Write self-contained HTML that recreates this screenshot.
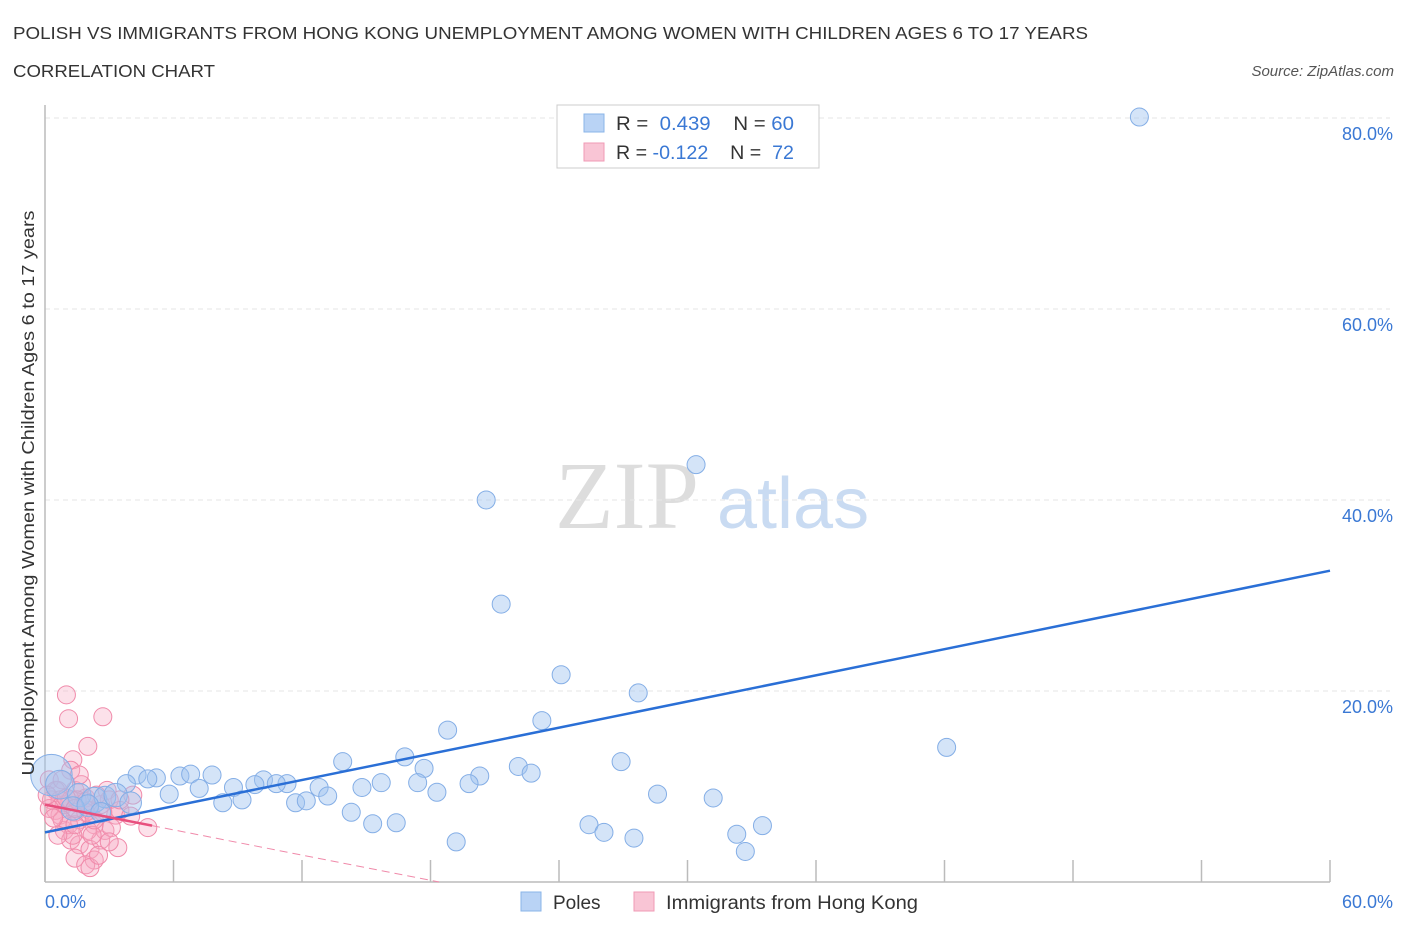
<!DOCTYPE html>
<html><head><meta charset="utf-8"><style>
body{margin:0;background:#fff;font-family:"Liberation Sans",sans-serif}
svg{display:block}
</style></head><body>
<svg id="chart" width="1406" height="930">
<text x="13" y="39" font-size="17.5" fill="#333" textLength="1075" lengthAdjust="spacingAndGlyphs">POLISH VS IMMIGRANTS FROM HONG KONG UNEMPLOYMENT AMONG WOMEN WITH CHILDREN AGES 6 TO 17 YEARS</text>
<text x="13" y="77" font-size="17.5" fill="#333" textLength="202" lengthAdjust="spacingAndGlyphs">CORRELATION CHART</text>
<text x="1394" y="76" font-size="15" fill="#555" font-style="italic" text-anchor="end">Source: ZipAtlas.com</text>
<g>
<text x="555" y="528" font-size="96" fill="#ddd" font-family="Liberation Serif,serif">ZIP</text>
<text x="717" y="528" font-size="72" fill="#c9dbf2">atlas</text>
</g>
<g id="grid"></g>
<g id="axes"></g>
<g id="marks"></g>
<text transform="translate(34,493) rotate(-90)" font-size="17.5" fill="#333" text-anchor="middle" textLength="565" lengthAdjust="spacingAndGlyphs">Unemployment Among Women with Children Ages 6 to 17 years</text>
<text x="45" y="908" font-size="18" fill="#3a78d4">0.0%</text>
<text x="1393" y="908" font-size="18" fill="#3a78d4" text-anchor="end">60.0%</text>
<g>
<rect x="557" y="105" width="262" height="63" fill="#fff" stroke="#ccc"/>
<rect x="584" y="114" width="20" height="18" fill="#b9d3f5" stroke="#8ab4e8"/>
<rect x="584" y="143" width="20" height="18" fill="#f9c5d5" stroke="#f09ab5"/>
<text x="616" y="130" font-size="19" fill="#333" textLength="178" lengthAdjust="spacingAndGlyphs">R = <tspan fill="#3a78d4">&#160;0.439</tspan>&#160;&#160;&#160;&#160;N = <tspan fill="#3a78d4">60</tspan></text>
<text x="616" y="159" font-size="19" fill="#333" textLength="178" lengthAdjust="spacingAndGlyphs">R = <tspan fill="#3a78d4">-0.122</tspan>&#160;&#160;&#160;&#160;N = <tspan fill="#3a78d4">&#160;72</tspan></text>
</g>
<g>
<rect x="521" y="892" width="20" height="19" fill="#b9d3f5" stroke="#8ab4e8"/>
<text x="553" y="909" font-size="19" fill="#333">Poles</text>
<rect x="634" y="892" width="20" height="19" fill="#f9c5d5" stroke="#f09ab5"/>
<text x="666" y="909" font-size="19" fill="#333" textLength="252" lengthAdjust="spacingAndGlyphs">Immigrants from Hong Kong</text>
</g>
</svg>
<script>
const yTicks=[20,40,60,80];
const yTickLabels=["20.0%","40.0%","60.0%","80.0%"];
const xTicks=[0,6,12,18,24,30,36,42,48,54,60];
const polesX=[51.1,30.4,20.6,21.3,24.1,27.7,23.2,18.8,42.1,13.9,16.8,22.1,26.9,17.7,20.3,22.7,4.3,6.3,6.8,7.8,5.2,4.8,3.8,10.2,11.3,10.8,9.8,8.8,15.7,14.8,12.8,19.8,17.4,18.3,5.8,7.2,28.6,31.2,13.2,9.2,8.3,11.7,12.2,14.3,25.4,26.1,27.5,32.3,33.5,15.3,16.4,19.2,32.7,0.3,0.7,1.6,2.3,2.8,3.3,1.3,2.0,4.0,2.6];
const polesY=[80.1,43.7,40.0,29.1,21.7,19.8,16.9,15.9,14.1,12.6,13.1,12.1,12.6,11.9,11.1,11.4,11.2,11.1,11.3,11.2,10.9,10.8,10.3,10.7,10.3,10.3,10.2,9.9,10.4,9.9,9.9,10.3,10.4,9.4,9.2,9.8,9.2,8.8,9.0,8.6,8.3,8.3,8.5,7.3,6.0,5.2,4.6,5.0,5.9,6.1,6.2,4.2,3.2,11.2,10.2,9.1,8.6,8.9,9.1,7.7,8.0,8.3,7.3];
const polesSize=[1,1,1,1,1,1,1,1,1,1,1,1,1,1,1,1,1,1,1,1,1,1,1,1,1,1,1,1,1,1,1,1,1,1,1,1,1,1,1,1,1,1,1,1,1,1,1,1,1,1,1,1,1,2.3,1.6,1.3,1.4,1.2,1.3,1.3,1.2,1.2,1.1];
const hkX=[1.0,1.1,2.7,2.0,1.3,0.2,0.6,0.3,0.5,0.7,0.9,1.2,1.4,1.6,1.9,2.1,2.3,2.6,2.9,3.0,3.3,3.5,4.0,4.8,4.1,0.9,1.2,1.6,2.1,1.4,2.3,1.9,2.1,3.4,2.6,2.8,0.8,1.1,0.5,0.7,0.2,1.4,1.7,2.0,2.2,2.5,1.3,1.5,1.9,3.1,0.1,0.4,1.0,1.2,0.8,1.6,2.4,2.7,0.6,1.4,3.0,2.3,3.5,1.9,1.4];
const hkY=[19.6,17.1,17.3,14.2,12.8,10.7,9.6,8.6,7.5,7.0,8.1,8.6,7.3,6.5,8.8,7.5,6.0,8.1,9.6,8.6,7.0,7.5,6.9,5.7,9.1,5.4,4.4,3.9,3.4,2.5,2.3,1.8,1.5,3.6,4.4,5.4,6.5,6.0,9.6,8.6,7.7,9.6,10.2,5.4,4.9,2.8,4.9,8.6,7.3,5.7,9.1,6.7,8.8,11.7,10.7,11.2,9.1,7.3,4.9,6.0,4.2,6.5,8.6,8.4,7.7];
const polesTrend=[5.2,32.6];
const hkTrend=[8.1,5.9,0];
const hkTrendX=[0,5,18.4];
const NS="http://www.w3.org/2000/svg";
const X0=45,X1=1330,Y0=882,Y80=118;
function sx(v){return X0+(X1-X0)*v/60;}
function sy(v){return Y0-(Y0-Y80)*v/80;}
function mk(tag,attrs,parent){const e=document.createElementNS(NS,tag);for(const k in attrs)e.setAttribute(k,attrs[k]);parent.appendChild(e);return e;}
const grid=document.getElementById('grid'),axes=document.getElementById('axes'),marks=document.getElementById('marks');
yTicks.forEach((t,i)=>{
 const l=mk('line',{x1:X0,x2:X1+60,y1:sy(t),y2:sy(t),stroke:'#e6e6e6','stroke-dasharray':'5,4'},grid);
 
 
 const tx=mk('text',{x:1393,y:sy(t)+22,'font-size':18,fill:'#3a78d4','text-anchor':'end'},grid);
 tx.textContent=yTickLabels[i];
 
 
});
const ax=mk('line',{x1:X0,x2:X1,y1:Y0,y2:Y0,stroke:'#bbb','stroke-width':1.5},axes);


const ay=mk('line',{x1:X0,x2:X0,y1:105,y2:Y0,stroke:'#bbb','stroke-width':1.5},axes);


xTicks.forEach(t=>{
 const l=mk('line',{x1:sx(t),x2:sx(t),y1:Y0-22,y2:Y0,stroke:'#bbb','stroke-width':1.5},axes);
 
 
});
hkX.forEach((x,i)=>{
 const c=mk('circle',{cx:sx(x),cy:sy(hkY[i]),r:9,fill:'rgba(246,170,196,0.35)',stroke:'#f08aaa','stroke-width':1},marks);
 
 
});
polesX.forEach((x,i)=>{
 const c=mk('circle',{cx:sx(x),cy:sy(polesY[i]),r:9*polesSize[i],fill:'rgba(160,196,240,0.45)',stroke:'#84aee6','stroke-width':1},marks);
 
 
});
const pl=mk('line',{x1:sx(0),y1:sy(polesTrend[0]),x2:sx(60),y2:sy(polesTrend[1]),stroke:'#2a6fd6','stroke-width':2.5},marks);


const hs=mk('line',{x1:sx(hkTrendX[0]),y1:sy(hkTrend[0]),x2:sx(hkTrendX[1]),y2:sy(hkTrend[1]),stroke:'#e8507e','stroke-width':2.5},marks);


const hd=mk('line',{x1:sx(hkTrendX[1]),y1:sy(hkTrend[1]),x2:sx(hkTrendX[2]),y2:sy(hkTrend[2]),stroke:'#f08aaa','stroke-width':1,'stroke-dasharray':'8,5'},marks);


</script>
</body></html>
